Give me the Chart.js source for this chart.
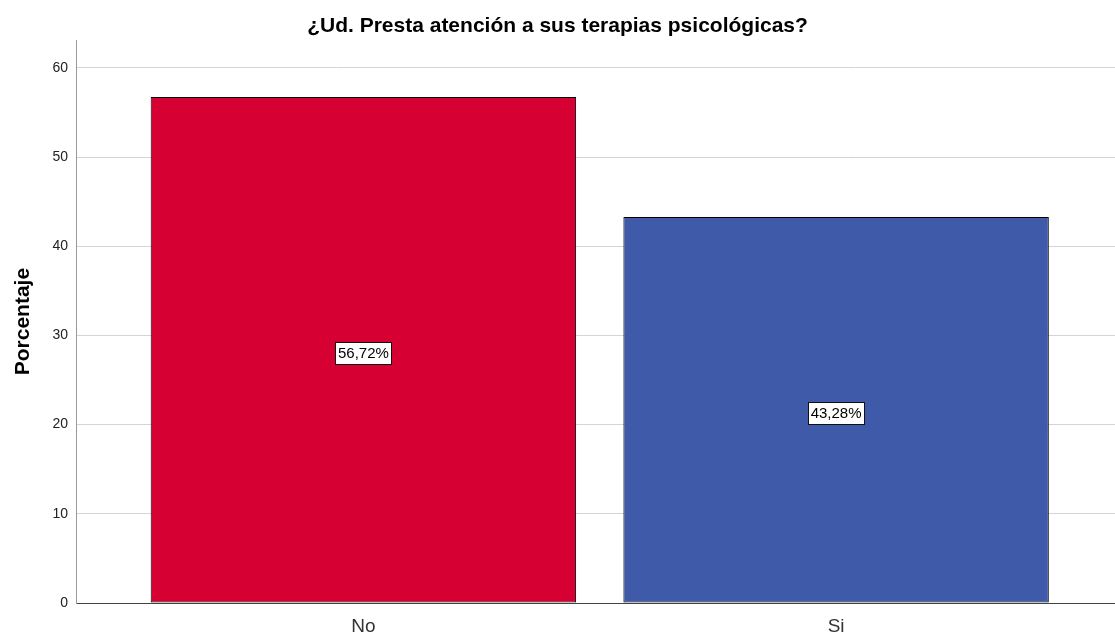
<!DOCTYPE html>
<html>
<head>
<meta charset="utf-8">
<script src="https://cdn.jsdelivr.net/npm/chart.js@4.4.0/dist/chart.umd.min.js"></script>
<style>
  html, body { margin: 0; padding: 0; background: #fff; }
  #wrap { width: 1115px; height: 639px; }
</style>
</head>
<body>
<div id="wrap"><canvas id="chart" width="1115" height="639"></canvas></div>
<script>
// ===== data =====
const categories = ['No', 'Si'];
const percentValues = [56.72, 43.28];
const barColors = ['#d70032', '#3e5aa8'];
const yTicks = [0, 10, 20, 30, 40, 50, 60];

const FONT = "'Liberation Sans', Arial, sans-serif";

// bars sit on a linear x scale so the SPSS-style uneven side margins can be matched
const points = categories.map((c, i) => ({ x: i + 1, y: percentValues[i] }));

// white boxed value labels in the middle of each bar
const valueLabels = {
  id: 'valueLabels',
  afterDatasetsDraw(chart) {
    const ctx = chart.ctx;
    const meta = chart.getDatasetMeta(0);
    ctx.save();
    ctx.font = '15px ' + FONT;
    ctx.textAlign = 'center';
    ctx.textBaseline = 'middle';
    meta.data.forEach((bar, i) => {
      const text = percentValues[i].toFixed(2).replace('.', ',') + '%';
      const cx = bar.x;
      const cy = (bar.y + bar.base) / 2 + 3;
      const w = Math.round(ctx.measureText(text).width) + 5;
      const h = 22;
      const x0 = Math.round(cx - w / 2) + 0.5;
      const y0 = Math.round(cy - h / 2) + 0.5;
      ctx.fillStyle = '#fff';
      ctx.fillRect(x0, y0, w, h);
      ctx.strokeStyle = '#111';
      ctx.lineWidth = 1;
      ctx.strokeRect(x0, y0, w, h);
      ctx.fillStyle = '#000';
      ctx.fillText(text, cx, cy + 1);
    });
    ctx.restore();
  }
};

new Chart(document.getElementById('chart'), {
  type: 'bar',
  data: {
    datasets: [{
      data: points,
      backgroundColor: barColors,
      borderColor: '#000',
      borderWidth: 1,
      borderSkipped: false,
      barPercentage: 0.9,
      categoryPercentage: 1.0
    }]
  },
  options: {
    responsive: false,
    animation: false,
    layout: { padding: { left: 0, right: 0, top: 0, bottom: 0 } },
    plugins: {
      legend: { display: false },
      tooltip: { enabled: false },
      title: {
        display: true,
        text: '¿Ud. Presta atención a sus terapias psicológicas?',
        color: '#000',
        font: { family: FONT, size: 21, weight: 'bold' },
        padding: { top: 14, bottom: 1 }
      }
    },
    scales: {
      x: {
        type: 'linear',
        min: 0.392,
        max: 2.59,
        offset: false,
        grid: { display: false, drawTicks: false },
        border: { display: true, color: '#444', width: 1 },
        ticks: {
          stepSize: 1,
          includeBounds: false,
          autoSkip: false,
          maxRotation: 0,
          padding: 12,
          color: '#333',
          font: { family: FONT, size: 19 },
          callback: (v) => (Number.isInteger(v) && categories[v - 1]) ? categories[v - 1] : ''
        },
        afterFit: (s) => { s.height = 36; }
      },
      y: {
        min: 0,
        max: 63.1,
        grid: { color: '#d4d4d4', lineWidth: 1, drawTicks: false },
        border: { display: true, color: '#999', width: 1 },
        ticks: {
          stepSize: 10,
          includeBounds: false,
          padding: 8,
          color: '#222',
          font: { family: FONT, size: 14 },
          callback: (v) => yTicks.includes(v) ? String(v) : ''
        },
        title: {
          display: true,
          text: 'Porcentaje',
          color: '#000',
          font: { family: FONT, size: 21, weight: 'bold' },
          padding: { top: 11, bottom: 0 }
        },
        afterFit: (s) => { s.width = 76; }
      }
    }
  },
  plugins: [valueLabels]
});
</script>
</body>
</html>
